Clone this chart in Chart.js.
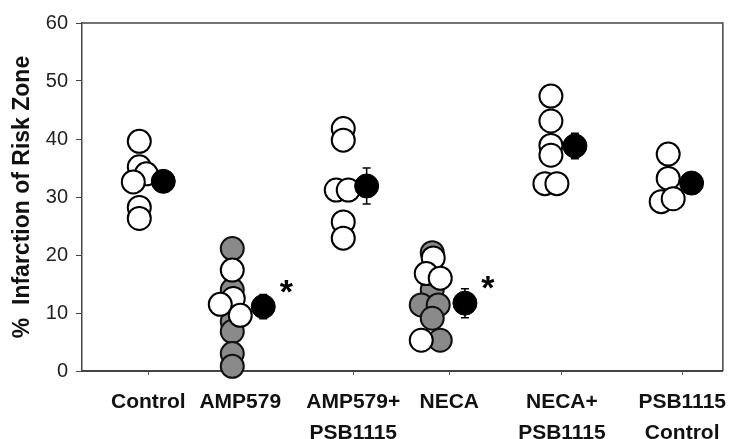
<!DOCTYPE html>
<html><head><meta charset="utf-8">
<script src="https://cdn.jsdelivr.net/npm/chart.js@4.4.1/dist/chart.umd.min.js"></script>
<style>html,body{margin:0;padding:0;background:#fff;}#wrap{width:739px;height:439px;}</style>
</head><body><div id="wrap"><canvas id="c" width="739" height="439"></canvas></div>
<script>
// ---- data ----
const categories = [['Control'], ['AMP579'], ['AMP579+', 'PSB1115'], ['NECA'], ['NECA+', 'PSB1115'], ['PSB1115', 'Control']];
const openValues = [
  [39.6, 35.2, 34.0, 32.6, 28.2, 26.3],
  [17.4, 12.5, 11.5, 9.6],
  [41.8, 39.8, 31.2, 31.2, 25.7, 22.9],
  [19.5, 16.8, 16.0, 5.3],
  [47.4, 43.1, 38.9, 37.2, 32.3, 32.3],
  [37.4, 33.2, 29.2, 29.7]
];
const grayValues = [
  [],
  [21.1, 14.0, 10.5, 8.5, 6.8, 3.0, 0.8],
  [],
  [20.4, 14.0, 11.4, 11.4, 9.1, 5.3],
  [],
  []
];
const meanValues = [32.7, 11.1, 31.9, 11.7, 38.8, 32.4];
const semValues = [1.2, 2.1, 3.1, 2.5, 2.2, 1.0];
const significant = [false, true, false, true, false, false];
const yTicks = [0, 10, 20, 30, 40, 50, 60];

// ---- layout (x in units of 100 px of plot width) ----
const columnX = [0.573, 1.503, 2.613, 3.503, 4.690, 5.863];
const meanShift = [0.24, 0.31, 0.234, 0.327, 0.24, 0.234];
const labelShift = [0.09, 0.08, 0.10, 0.17, 0.11, 0.14];
const openJitter = [[0, 0, 7, -6, 0, 0], [0, 1, -12, 8], [0, 0, -7, 5, 0, 0], [1, -6, 8, -11], [0, 0, 0, 0, -6, 6], [0, 0, -7, 5]];
const grayJitter = [[], [0, 0, 0, 0, 0, 0, 0], [], [0, 0, -11, 6, 0, 8], [], []];

function pts(values, jit) {
  const out = [];
  values.forEach((arr, g) => arr.forEach((v, k) => out.push({ x: columnX[g] + jit[g][k] / 100, y: v })));
  return out;
}
const FONT = "'Liberation Sans', Arial, Helvetica, sans-serif";

const errorBars = {
  id: 'errorBars',
  beforeDatasetsDraw(chart) {
    const { ctx, scales: { x, y } } = chart;
    ctx.save();
    ctx.strokeStyle = '#000';
    ctx.lineWidth = 1.5;
    meanValues.forEach((m, i) => {
      const px = x.getPixelForValue(columnX[i] + meanShift[i]);
      const t = y.getPixelForValue(m + semValues[i]);
      const b = y.getPixelForValue(m - semValues[i]);
      ctx.beginPath();
      ctx.moveTo(px, t); ctx.lineTo(px, b);
      ctx.moveTo(px - 4, t); ctx.lineTo(px + 4, t);
      ctx.moveTo(px - 4, b); ctx.lineTo(px + 4, b);
      ctx.stroke();
    });
    const a = chart.chartArea;
    ctx.strokeStyle = '#444';
    ctx.lineWidth = 1.5;
    ctx.beginPath();
    ctx.moveTo(a.left, a.top); ctx.lineTo(a.right, a.top); ctx.lineTo(a.right, a.bottom);
    ctx.stroke();
    ctx.restore();
  },
  afterDatasetsDraw(chart) {
    const { ctx, scales: { x, y } } = chart;
    ctx.save();
    ctx.fillStyle = '#000';
    ctx.font = 'bold 34px ' + FONT;
    ctx.textAlign = 'center';
    ctx.textBaseline = 'alphabetic';
    meanValues.forEach((m, i) => {
      if (!significant[i]) return;
      const px = x.getPixelForValue(columnX[i] + meanShift[i]) + 23;
      const py = y.getPixelForValue(m) - 4;
      ctx.fillText('*', px, py);
    });
    ctx.restore();
  }
};

new Chart(document.getElementById('c'), {
  type: 'scatter',
  data: {
    datasets: [
      { label: 'Mean', data: meanValues.map((v, i) => ({ x: columnX[i] + meanShift[i], y: v })), pointRadius: 12, backgroundColor: '#000', borderColor: '#000', borderWidth: 1, order: 0, clip: false },
      { label: 'Open', data: pts(openValues, openJitter), pointRadius: 11.5, backgroundColor: '#fff', borderColor: '#000', borderWidth: 2, order: 1, clip: false },
      { label: 'Gray', data: pts(grayValues, grayJitter), pointRadius: 11.5, backgroundColor: '#8a8a8a', borderColor: '#111', borderWidth: 2, order: 2, clip: false }
    ]
  },
  options: {
    responsive: false,
    animation: false,
    events: [],
    layout: { padding: { top: 23, right: 16, bottom: 0, left: 0 } },
    plugins: { legend: { display: false }, tooltip: { enabled: false } },
    scales: {
      x: {
        type: 'linear', min: 0, max: 6.41,
        afterFit(s) { s.height = 68; },
        afterBuildTicks(s) { s.ticks = columnX.map((c, i) => ({ value: c + labelShift[i] })); },
        border: { display: true, color: '#444', width: 2 },
        grid: { display: true, drawOnChartArea: false, drawTicks: true, tickLength: 4, color: '#666' },
        ticks: {
          autoSkip: false, maxRotation: 0, minRotation: 0, padding: 12,
          color: '#111',
          font: { family: FONT, size: 21, weight: 'bold', lineHeight: 1.46 },
          callback: (v, i) => categories[i]
        }
      },
      y: {
        min: 0, max: 60,
        afterFit(s) { s.width = 82; },
        afterBuildTicks(s) { s.ticks = yTicks.map(v => ({ value: v })); },
        border: { display: true, color: '#444', width: 1.5 },
        grid: { display: true, drawOnChartArea: false, drawTicks: true, tickLength: 6, color: '#444' },
        ticks: { padding: 8, color: '#222', font: { family: FONT, size: 20 } },
        title: { display: true, text: '%  Infarction of Risk Zone', color: '#111', font: { family: FONT, size: 23, weight: 'bold' }, padding: { top: 9, bottom: 0 } }
      }
    }
  },
  plugins: [errorBars]
});
</script>
</body></html>
